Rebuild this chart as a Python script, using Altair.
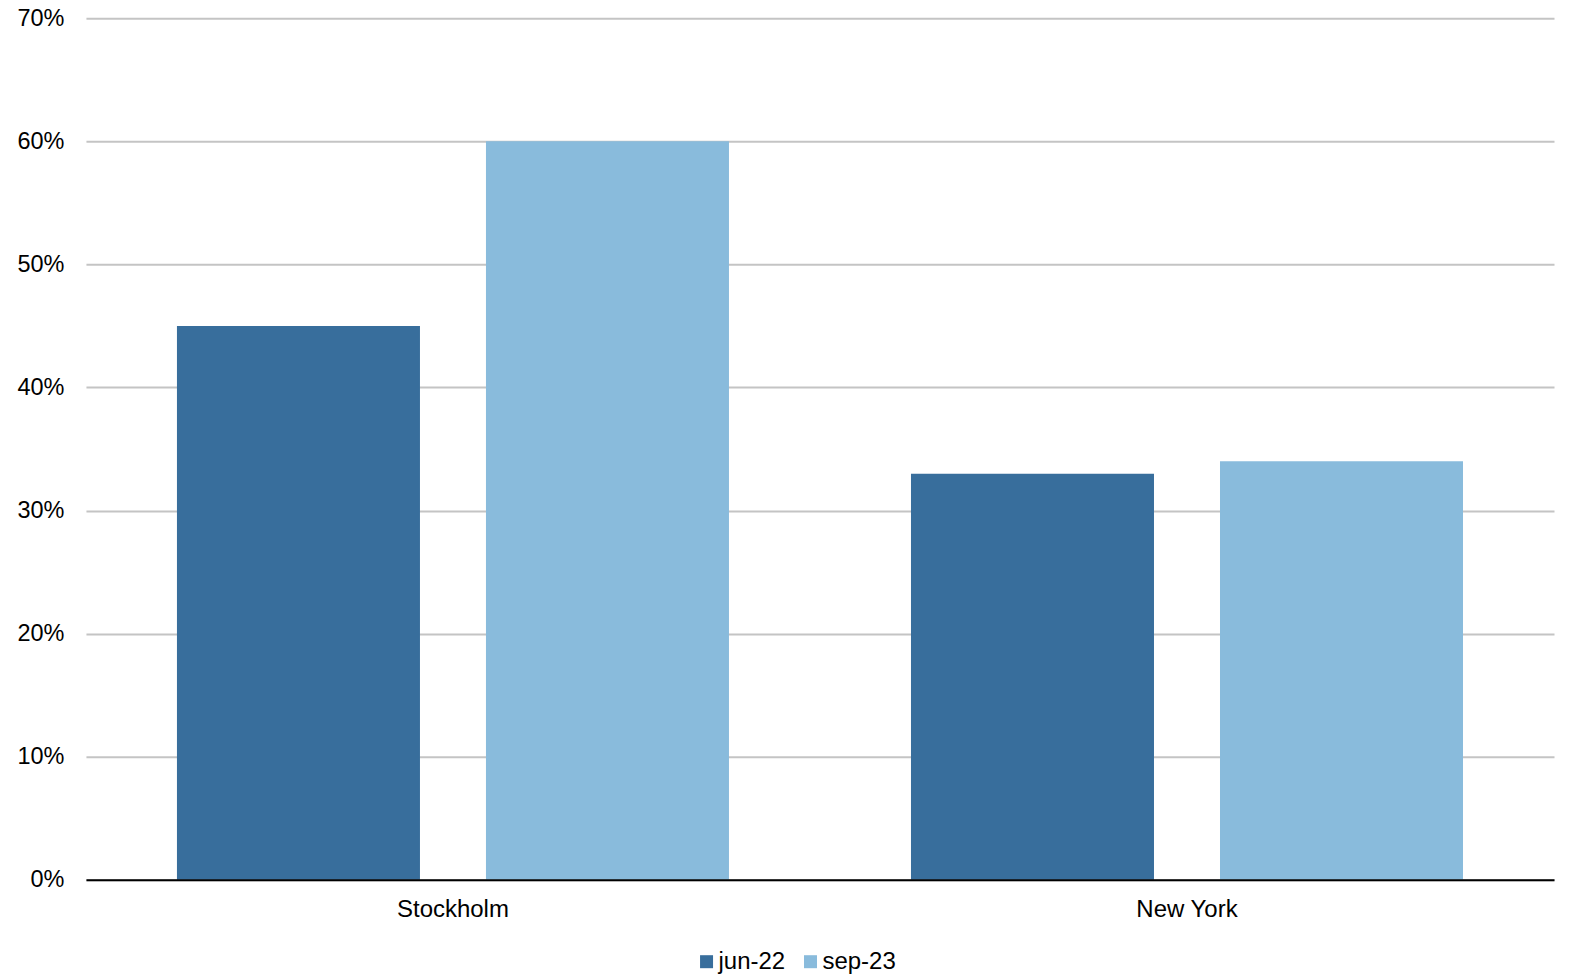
import altair as alt
import pandas as pd

cities = ["Stockholm", "Stockholm", "New York", "New York"]
periods = ["jun-22", "sep-23", "jun-22", "sep-23"]
values = [0.45, 0.60, 0.33, 0.34]
city_order = ["Stockholm", "New York"]
period_order = ["jun-22", "sep-23"]
colors = ["#386e9c", "#89bbdc"]

df = pd.DataFrame({"city": cities, "period": periods, "value": values})

FONT = "Liberation Sans"
FS = 24

chart = alt.Chart(df).mark_bar().encode(
    x=alt.X("city:N", sort=city_order, title=None,
            scale=alt.Scale(paddingInner=0, paddingOuter=0),
            axis=alt.Axis(labelAngle=0, labelFontSize=FS, labelFont=FONT, labelColor="#000000",
                          ticks=False, domainColor="#000000", domainWidth=2, labelPadding=18,
                          grid=False, zindex=1)),
    xOffset=alt.XOffset("period:N", sort=period_order,
                        scale=alt.Scale(paddingInner=0.2136, paddingOuter=0.2945)),
    y=alt.Y("value:Q", title=None,
            scale=alt.Scale(domain=[0, 0.7], nice=False),
            axis=alt.Axis(format=".0%", values=[0, 0.1, 0.2, 0.3, 0.4, 0.5, 0.6, 0.7],
                          labelFontSize=23.5, labelFont=FONT, labelColor="#000000",
                          ticks=False, domain=False, labelPadding=22,
                          gridColor="#c4c4c4", gridWidth=2)),
    color=alt.Color("period:N", sort=period_order,
                    scale=alt.Scale(domain=period_order, range=colors),
                    legend=alt.Legend(title=None, orient="none", direction="horizontal",
                                      legendX=609, legendY=932,
                                      symbolType="square", symbolSize=169,
                                      symbolStrokeWidth=0,
                                      labelFontSize=FS, labelFont=FONT, labelColor="#000000",
                                      labelOffset=0, columnPadding=13)),
).properties(
    width=1469, height=862,
    autosize=alt.AutoSizeParams(type="none"),
    padding={"left": 78, "top": 10, "right": 8, "bottom": 94},
).configure_view(stroke=None)

chart.save("out.html", embed_options={"renderer": "svg", "actions": False})
